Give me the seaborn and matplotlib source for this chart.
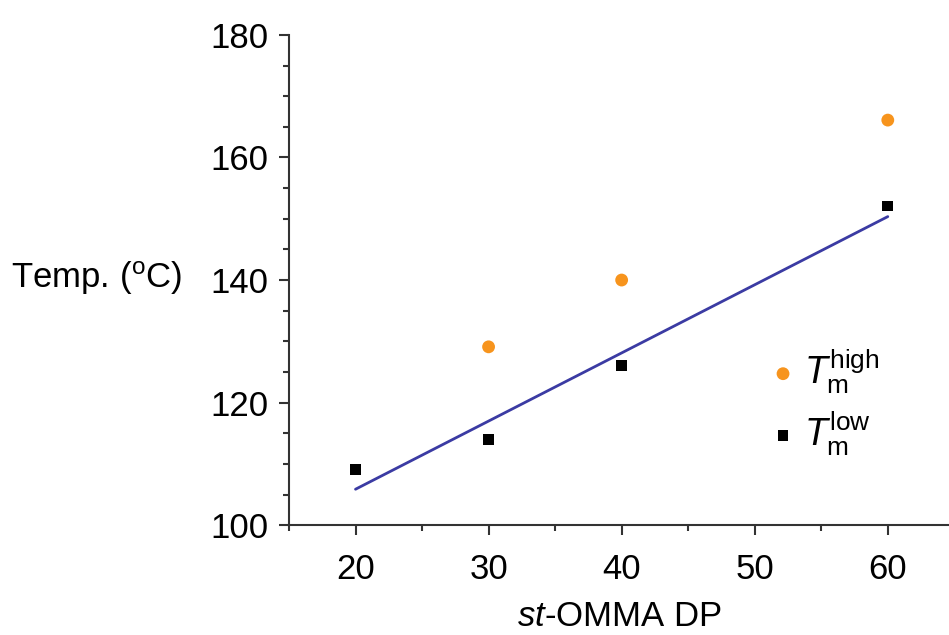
import matplotlib
matplotlib.use("Agg")
import matplotlib.pyplot as plt
import seaborn as sns
import pandas as pd
from matplotlib.ticker import MultipleLocator

# data
dp_high = [30, 40, 60]
tm_high = [129.1, 140.0, 166.1]
dp_low = [20, 30, 40, 60]
tm_low = [109.1, 114.0, 126.1, 152.1]

high = pd.DataFrame({"dp": dp_high, "tm": tm_high})
low = pd.DataFrame({"dp": dp_low, "tm": tm_low})

sns.set_style("ticks")
plt.rcParams["font.family"] = ["Liberation Sans", "DejaVu Sans"]
plt.rcParams["mathtext.fontset"] = "custom"
plt.rcParams["mathtext.rm"] = "Liberation Sans"
plt.rcParams["mathtext.it"] = "Liberation Sans:italic"
plt.rcParams["text.color"] = "black"
plt.rcParams["axes.labelcolor"] = "black"
plt.rcParams["xtick.labelcolor"] = "black"
plt.rcParams["ytick.labelcolor"] = "black"

fig = plt.figure(figsize=(9.49, 6.35), dpi=100)
ax = fig.add_axes([0.3045, 0.173, 0.6955, 0.772])

# linear fit of the low melting points
sns.regplot(data=low, x="dp", y="tm", scatter=False, ci=None, ax=ax,
            line_kws={"color": "#3b3ba3", "lw": 2}, truncate=True)
sns.scatterplot(data=high, x="dp", y="tm", ax=ax, color="#f7941d", marker="o",
                s=85, edgecolor="none", label=r"$\mathit{T}_\mathrm{m}^\mathrm{high}$")
sns.scatterplot(data=low, x="dp", y="tm", ax=ax, color="black", marker="s",
                s=60, edgecolor="none", label=r"$\mathit{T}_\mathrm{m}^\mathrm{low}$")

ax.set_xlim(15, 64.6)
ax.set_ylim(100, 180)
ax.xaxis.set_major_locator(MultipleLocator(10))
ax.xaxis.set_minor_locator(MultipleLocator(5))
ax.yaxis.set_major_locator(MultipleLocator(20))
ax.yaxis.set_minor_locator(MultipleLocator(5))

for s in ["top", "right"]:
    ax.spines[s].set_visible(False)
for s in ["left", "bottom"]:
    ax.spines[s].set_color("#333333")
    ax.spines[s].set_linewidth(1.5)
ax.tick_params(which="major", length=7, width=1.5, color="#333333",
               labelsize=25, pad=8)
ax.tick_params(axis="x", which="major", pad=13)
ax.tick_params(which="minor", length=4, width=1.5, color="#333333")

ax.set_xlabel(r"$\mathit{st}$-OMMA DP", fontsize=25, labelpad=10)
ax.set_ylabel(r"Temp. ($^\mathrm{o}$C)", fontsize=25, rotation=0, labelpad=0)
ax.yaxis.set_label_coords(-0.292, 0.466)

ax.legend(loc="center", bbox_to_anchor=(0.81, 0.25), frameon=False,
          fontsize=27, labelspacing=0.35, handlelength=0.8, handletextpad=0.15,
          markerscale=1.0)

fig.savefig("out.png", dpi=100)
